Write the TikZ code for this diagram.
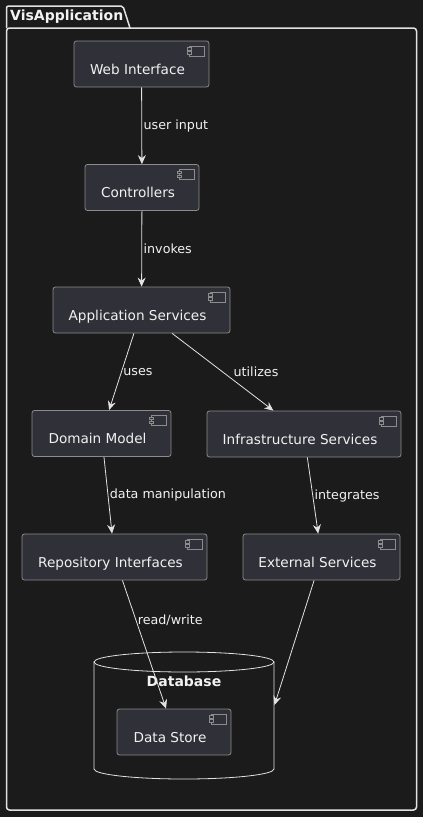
\documentclass[tikz,border=0pt]{standalone}
\usepackage{fontspec}
\setmainfont{DejaVu Sans}
\usepackage{tikz}
\usetikzlibrary{arrows.meta,calc}
\definecolor{bgdark}{HTML}{1B1B1B}
\definecolor{compfill}{HTML}{303038}
\definecolor{compborder}{HTML}{8C8C8C}
\definecolor{flowline}{HTML}{E2E2E2}
\definecolor{textwhite}{HTML}{F2F2F2}

% little component glyph in the upper right corner of a box
\newcommand\compicon[1]{%
  \draw[compborder, line width=0.8pt] ($(#1.north east)+(-20,5.5)$) rectangle ($(#1.north east)+(-5,15.5)$);
  \draw[compborder, fill=compfill, line width=0.8pt] ($(#1.north east)+(-22,7)$) rectangle ($(#1.north east)+(-18,9.3)$);
  \draw[compborder, fill=compfill, line width=0.8pt] ($(#1.north east)+(-22,11.2)$) rectangle ($(#1.north east)+(-18,13.5)$);
}

\begin{document}
\begin{tikzpicture}[
    x=1pt, y=-1pt,
    >={Stealth[length=9pt,width=8pt,inset=3pt]},
    comp/.style={draw=compborder, fill=compfill, rounded corners=2.5pt, line width=0.8pt,
        minimum height=46pt, inner sep=0pt, text=textwhite, font=\fontsize{13.6}{16}\selectfont,
        text height=20pt, text depth=0pt, execute at end node={\hspace{8pt}}},
    flow/.style={->, draw=flowline, line width=0.8pt},
    lbl/.style={text=textwhite, font=\fontsize{12.7}{15}\selectfont, inner sep=1.5pt},
    pkg/.style={draw=flowline, line width=1.5pt}
]

% Background
\useasboundingbox (0,0) rectangle (423,817);
\fill[bgdark] (0,0) rectangle (423,817);

% Package frame with tab
\draw[pkg, rounded corners=2pt] (6.5,28) -- (6.5,6) -- (123,6) -- (130,28);
\draw[pkg, rounded corners=3pt] (6.5,28) -- (416.5,28) -- (416.5,810) -- (6.5,810) -- cycle;
\node[anchor=west, text=textwhite, font=\bfseries\fontsize{14}{16}\selectfont, inner sep=0pt] (pkgtitle) at (10,17) {VisApplication};

% Database cylinder
\draw[flowline, line width=0.8pt, fill=bgdark] (94,662) -- (94,769) arc[start angle=180, end angle=0, x radius=90, y radius=10] -- (274,662);
\draw[flowline, line width=0.8pt] (184,662) ellipse[x radius=90, y radius=10];
\node[text=textwhite, font=\bfseries\fontsize{14}{16}\selectfont] (dbtitle) at (184,681) {Database};
\coordinate (dbin) at (274.5,705);

% Components
\node[comp, minimum width=135pt] (web) at (141.5,64) {Web Interface};
\node[comp, minimum width=114pt] (ctrl) at (142,187.5) {Controllers};
\node[comp, minimum width=177pt] (app) at (141.5,310) {Application Services};
\node[comp, minimum width=139pt] (dom) at (101.5,433.5) {Domain Model};
\node[comp, minimum width=194pt] (infra) at (304,434) {Infrastructure Services};
\node[comp, minimum width=185pt] (repo) at (114.5,557) {Repository Interfaces};
\node[comp, minimum width=157pt] (ext) at (321.5,557) {External Services};
\node[comp, minimum width=114pt] (store) at (174,732) {Data Store};

\foreach \c in {web,ctrl,app,dom,infra,repo,ext,store}
    \compicon{\c};

% Connectors
\draw[flow] (web) -- node[lbl, right] {user input} (ctrl);
\draw[flow] (ctrl) -- node[lbl, right] {invokes} (app);
\draw[flow] (app) -- node[lbl, right] {uses} (dom);
\draw[flow] (app) -- node[lbl, right=9pt] {utilizes} (infra);
\draw[flow] (dom) -- node[lbl, right] {data manipulation} (repo);
\draw[flow] (infra) -- node[lbl, right] {integrates} (ext);
\draw[flow] (repo) -- node[lbl, right, pos=0.31] {read/write} (store);
\draw[flow] (ext) -- (dbin);

\end{tikzpicture}
\end{document}
